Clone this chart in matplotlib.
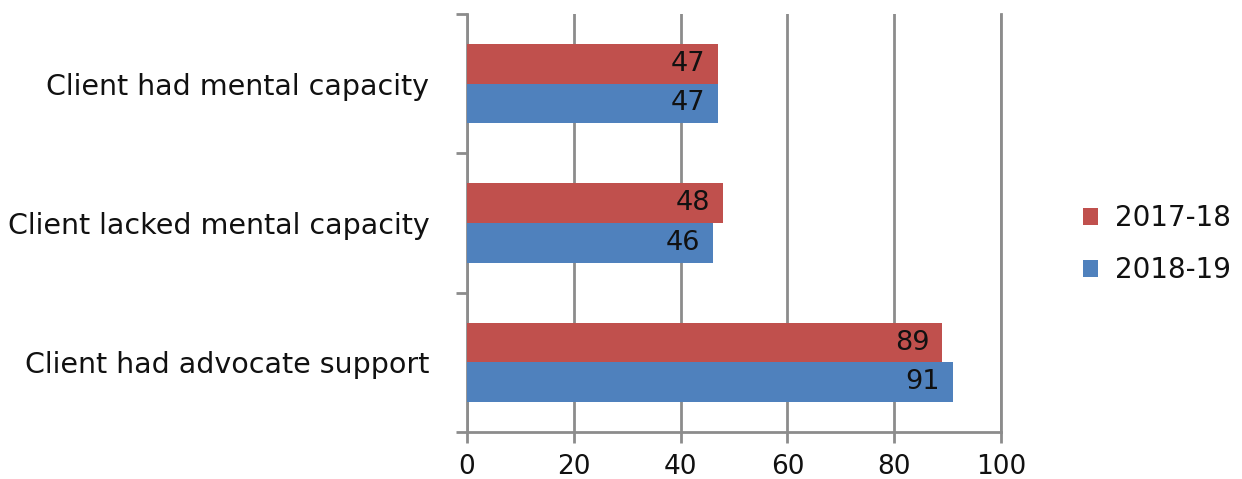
import numpy as np
import matplotlib.pyplot as plt

categories = ['Client had mental capacity', 'Client lacked mental capacity', 'Client had advocate support']
vals_1718 = [47, 48, 89]
vals_1819 = [47, 46, 91]
series_names = ['2017-18', '2018-19']
colors = ['#C0504D', '#4F81BD']
xticks = [0, 20, 40, 60, 80, 100]

plt.rcParams['font.family'] = 'DejaVu Sans'

fig = plt.figure(figsize=(12.42, 4.79), dpi=100)
ax = fig.add_axes([0.376, 0.098, 0.430, 0.873])

y = np.arange(len(categories))
h = 0.285
gcol = '#8C8C8C'

bars_a = ax.barh(y - h / 2, vals_1718, height=h, color=colors[0], label=series_names[0], zorder=3)
bars_b = ax.barh(y + h / 2, vals_1819, height=h, color=colors[1], label=series_names[1], zorder=3)

for bars in (bars_a, bars_b):
    for b in bars:
        ax.text(b.get_width() - 2.4, b.get_y() + b.get_height() / 2, f'{int(b.get_width())}',
                ha='right', va='center', fontsize=19.5, color='#111111', zorder=4)

ax.set_xlim(0, 100)
ax.set_ylim(len(categories) - 0.5, -0.5)
ax.set_xticks(xticks)
ax.set_xticklabels([str(v) for v in xticks], fontsize=19)
ax.xaxis.grid(True, color=gcol, linewidth=2, zorder=0)
ax.axvline(100, color=gcol, linewidth=2, zorder=0, clip_on=False)

# category boundaries carry the tick marks, labels sit at the centres
ax.set_yticks(np.arange(len(categories) + 1) - 0.5)
ax.set_yticklabels([])
ax.set_yticks(y, minor=True)
ax.set_yticklabels(categories, minor=True, fontsize=20.5, color='#111111')
ax.tick_params(axis='y', which='minor', length=0, pad=27)
ax.tick_params(axis='y', which='major', length=8, width=2, color=gcol)
ax.tick_params(axis='x', length=8, width=2, color=gcol, pad=8, labelcolor='#111111')

for s in ['top', 'right']:
    ax.spines[s].set_visible(False)
for s in ['left', 'bottom']:
    ax.spines[s].set_color(gcol)
    ax.spines[s].set_linewidth(2)

leg = fig.legend(loc='center left', bbox_to_anchor=(0.852, 0.49), frameon=False, fontsize=20,
                 handlelength=0.55, handleheight=0.55, handletextpad=0.6, labelspacing=0.85)
for t in leg.get_texts():
    t.set_color('#111111')

plt.savefig('out.png', dpi=100)
